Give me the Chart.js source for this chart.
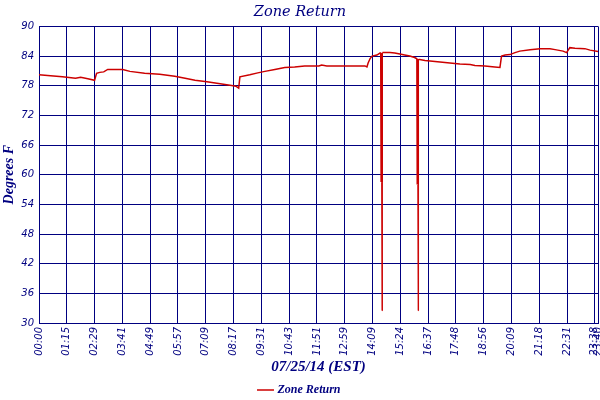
<!DOCTYPE html>
<html>
<head>
<meta charset="utf-8">
<script src="https://cdn.jsdelivr.net/npm/chart.js@4"></script>
<style>
  body { margin: 0; background: #fff; }
  #wrap { width: 600px; height: 400px; }
</style>
</head>
<body>
<div id="wrap"><canvas id="zone"></canvas></div>
<script>
// sample number along the day, and the reading at that sample
const sampleIdx = [0, 29, 59, 92, 105, 123, 140, 145, 153, 163, 173, 211, 229, 266, 304, 342,
  368, 393, 423, 448, 481, 496, 503, 506, 531, 551, 569, 594, 619, 644, 669, 705, 712, 725,
  821, 826, 829, 834, 839, 851, 859, 862, 863, 864, 865, 884, 896, 909, 921, 934, 946, 953,
  954, 955, 956, 959, 972, 985, 1010, 1035, 1060, 1086, 1098, 1123, 1148, 1161, 1165, 1174,
  1186, 1199, 1211, 1237, 1262, 1287, 1300, 1320, 1329, 1337, 1350, 1375, 1388, 1408]
const temps = [80.2, 80.0, 79.8, 79.5, 79.7, 79.4, 79.1, 80.5, 80.7, 80.8, 81.3, 81.3, 80.9, 80.5, 80.3, 79.9,
  79.5, 79.1, 78.8, 78.5, 78.1, 77.9, 77.5, 79.8, 80.2, 80.6, 80.9, 81.3, 81.7, 81.8, 82.0, 82.0, 82.2, 82.0,
  82.0, 81.8, 82.6, 83.5, 84.0, 84.2, 84.6, 84.6, 58.5, 32.5, 84.7, 84.7, 84.6, 84.4, 84.2, 84.0, 83.7, 83.4,
  58.0, 32.5, 83.3, 83.3, 83.1, 83.0, 82.8, 82.6, 82.4, 82.3, 82.1, 82.0, 81.8, 81.7, 84.0, 84.2,
  84.3, 84.7, 85.0, 85.3, 85.5, 85.5, 85.3, 85.0, 84.7, 85.7, 85.6, 85.5, 85.2, 84.9]

const tickIdx = [0, 70, 140, 210, 280, 350, 420, 490, 560, 630, 700, 770, 840, 910, 980, 1050,
  1120, 1190, 1260, 1330, 1400, 1408]
const tickLabels = ['00:00', '01:15', '02:29', '03:41', '04:49', '05:57', '07:09', '08:17', '09:31',
  '10:43', '11:51', '12:59', '14:09', '15:24', '16:37', '17:48', '18:56', '20:09', '21:18', '22:31',
  '23:38', '23:40']

const navy = '#000080'
const serif = '"DejaVu Serif", serif'
const times = '"Liberation Serif", serif'
const sans = '"DejaVu Sans", sans-serif'

// the two sensor drop-outs: heavy stroke on the first step, hairline below
const dropWidth = (ctx) => {
  const lo = Math.min(ctx.p0.parsed.y, ctx.p1.parsed.y)
  if (lo < 40) return 1
  if (lo < 70) return 2.5
  return undefined
}

new Chart(document.getElementById('zone'), {
  type: 'line',
  data: {
    datasets: [{
      label: 'Zone Return',
      data: sampleIdx.map((x, i) => ({ x: x, y: temps[i] })),
      borderColor: '#cc0000',
      backgroundColor: '#cc0000',
      borderWidth: 1.5,
      pointRadius: 0,
      tension: 0,
      segment: { borderWidth: dropWidth },
    }]
  },
  options: {
    responsive: true,
    maintainAspectRatio: false,
    animation: false,
    layout: { padding: { left: 0, right: 0, top: 0, bottom: -6 } },
    scales: {
      x: {
        type: 'linear',
        min: 0,
        max: 1408,
        afterBuildTicks: (s) => { s.ticks = tickIdx.map(v => ({ value: v })) },
        // let the plot run right up to the canvas edge like the original
        afterFit: (s) => { s.paddingRight = 2; s.height = 61 },
        grid: { color: navy, drawTicks: false, lineWidth: 1 },
        border: { color: navy },
        ticks: {
          autoSkip: false,
          minRotation: 90,
          maxRotation: 90,
          padding: 4,
          color: navy,
          font: { family: sans, size: 10, style: 'italic' },
          callback: (v, i) => tickLabels[i],
        },
        title: {
          display: true,
          text: '07/25/14 (EST)',
          color: navy,
          font: { family: times, size: 15, style: 'italic', weight: 'bold', lineHeight: 1 },
          padding: { top: 3, bottom: 9 },
        },
      },
      y: {
        min: 30,
        max: 90,
        afterFit: (s) => { s.width = 39 },
        grid: { color: navy, drawTicks: false },
        border: { color: navy },
        ticks: {
          stepSize: 6,
          padding: 5,
          color: navy,
          font: { family: sans, size: 10, style: 'italic' },
        },
        title: {
          display: true,
          text: 'Degrees F',
          color: navy,
          font: { family: times, size: 14, style: 'italic', weight: 'bold' },
          padding: { top: 1, bottom: 2 },
        },
      },
    },
    plugins: {
      title: {
        display: true,
        text: 'Zone Return',
        color: navy,
        font: { family: serif, size: 14.5, style: 'italic', weight: 'normal' },
        padding: { top: 4, bottom: 5 },
      },
      legend: {
        position: 'bottom',
        labels: {
          usePointStyle: true,
          pointStyle: 'line',
          boxWidth: 14,
          padding: 0,
          color: navy,
          font: { family: times, size: 12, style: 'italic', weight: 'bold' },
        },
      },
      tooltip: { enabled: false },
    }
  }
})
</script>
</body>
</html>
